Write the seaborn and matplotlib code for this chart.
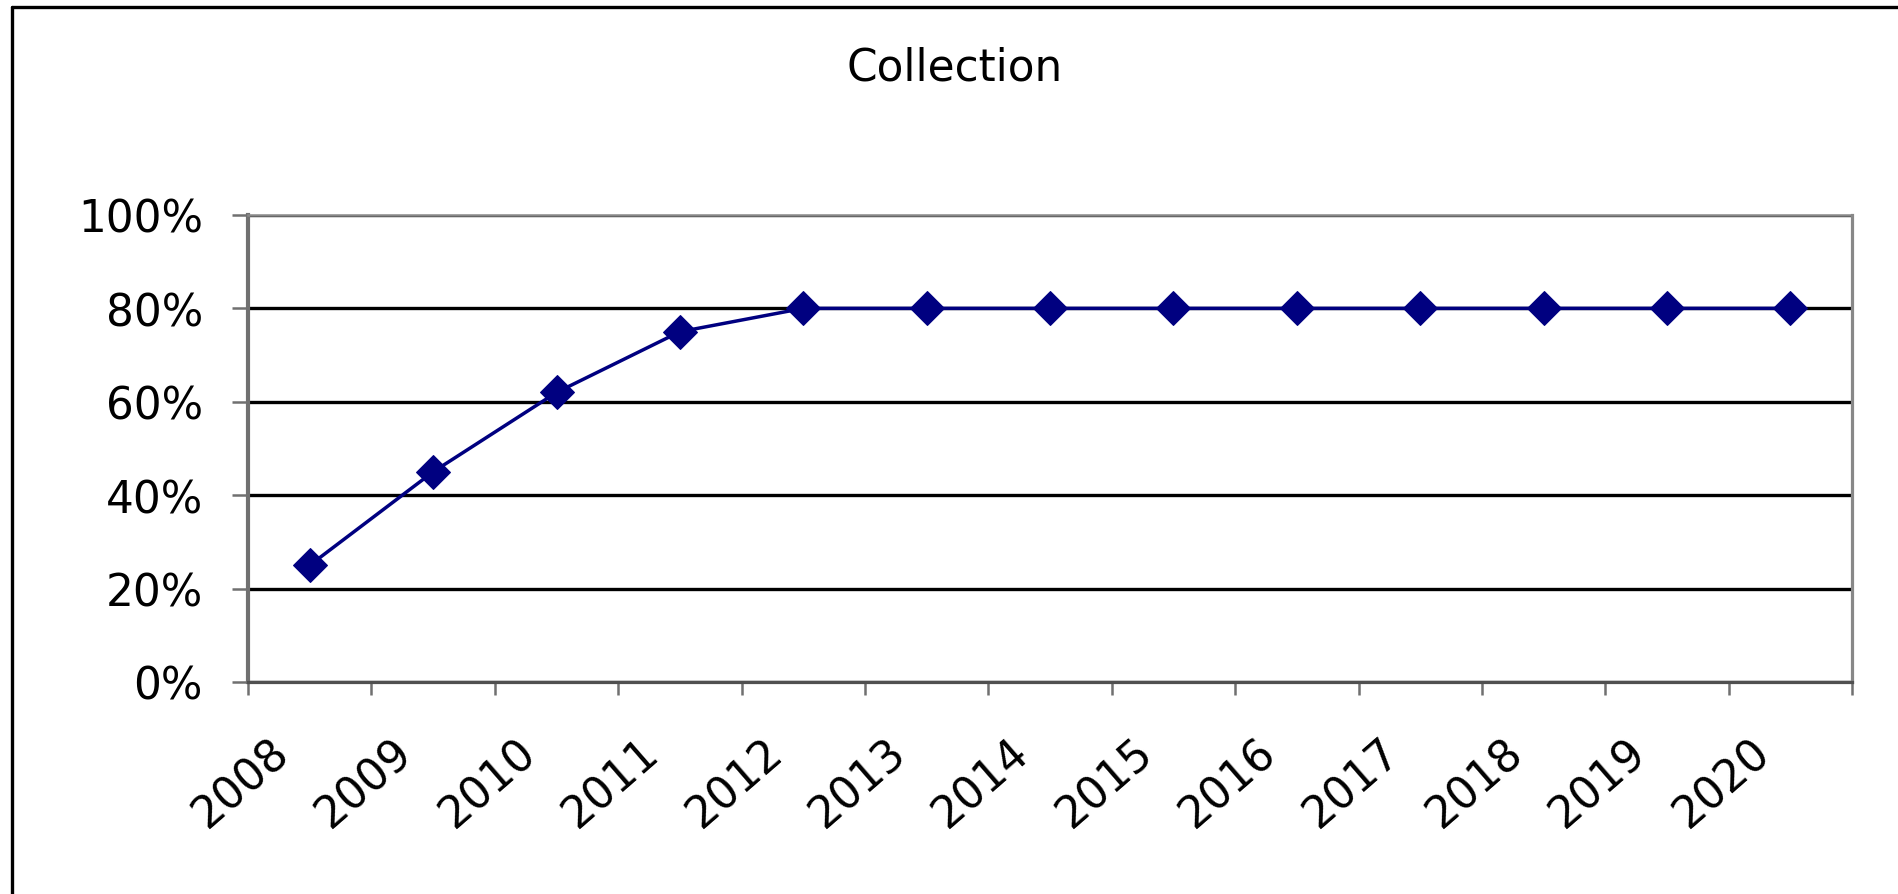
#!/usr/bin/env python3

import pandas as pd
import matplotlib
matplotlib.use("Agg")
import matplotlib.pyplot as plt
import matplotlib.transforms as mtransforms
from matplotlib.lines import Line2D
from matplotlib.ticker import FixedLocator, PercentFormatter
import seaborn as sns
import numpy as np

# Chart data
years = ["2008", "2009", "2010", "2011", "2012", "2013", "2014",
         "2015", "2016", "2017", "2018", "2019", "2020"]
collection_pct = [25, 45, 62, 75, 80, 80, 80, 80, 80, 80, 80, 80, 80]
y_ticks = [0, 20, 40, 60, 80, 100]
title = "Collection"


def setup_plotting_style():
    """Excel-like look: white background, wide sans font."""
    sns.set_theme(style="white")
    plt.rcParams['font.family'] = ['DejaVu Sans']
    plt.rcParams['figure.dpi'] = 100


def main():
    setup_plotting_style()
    df = pd.DataFrame({"year": years, "value": collection_pct})
    df["pos"] = np.arange(len(df))

    fig = plt.figure(figsize=(18.98, 8.95), dpi=100)
    ax = fig.add_axes([0.1307, 0.2369, 0.8451, 0.5218])

    # horizontal gridlines (black, Excel style)
    ax.set_axisbelow(True)
    ax.yaxis.grid(True, color="black", linewidth=2.4)
    ax.xaxis.grid(False)

    sns.lineplot(data=df, x="pos", y="value", ax=ax, color="#000080",
                 linewidth=2.5, marker="D", markersize=17,
                 markeredgecolor="#000080", zorder=3)

    ax.set_xlim(-0.5, len(years) - 0.5)
    ax.set_ylim(0, 100)
    ax.set_xlabel("")
    ax.set_ylabel("")

    # y axis
    ax.yaxis.set_major_locator(FixedLocator(y_ticks))
    ax.yaxis.set_major_formatter(PercentFormatter(decimals=0))
    ax.tick_params(axis="y", which="major", direction="out", length=11.5,
                   width=1.8, color="#707070", pad=21, labelsize=31.5,
                   labelcolor="black", left=True)

    # x axis: labels at category centres, ticks at category boundaries
    ax.set_xticks(df["pos"])
    ax.set_xticklabels(years, rotation=41, ha="right", va="center",
                       rotation_mode="anchor")
    ax.set_xticks(np.arange(-0.5, len(years)), minor=True)
    ax.tick_params(axis="x", which="major", length=0, pad=46,
                   labelsize=31.5, labelcolor="black", bottom=True)
    ax.tick_params(axis="x", which="minor", direction="out", length=9.5,
                   width=1.8, color="#707070", bottom=True)
    offset = mtransforms.ScaledTranslation(-19 / 72, 0, fig.dpi_scale_trans)
    for lbl in ax.get_xticklabels():
        lbl.set_transform(lbl.get_transform() + offset)

    # spines
    ax.spines["left"].set_color("#707070")
    ax.spines["left"].set_linewidth(3.0)
    ax.spines["bottom"].set_color("#505050")
    ax.spines["bottom"].set_linewidth(2.3)
    ax.spines["top"].set_color("#888888")
    ax.spines["top"].set_linewidth(1.8)
    ax.spines["right"].set_color("#888888")
    ax.spines["right"].set_linewidth(2.3)
    for s in ax.spines.values():
        s.set_visible(True)

    # title
    fig.text(0.503, 1 - 68 / 895, title, ha="center", va="center",
             fontsize=31.5, color="black")

    # outer chart border (only top and left edges visible)
    W, H = 1898, 895
    fig.add_artist(Line2D([12 / W, 1.0], [1 - 8 / H, 1 - 8 / H],
                          transform=fig.transFigure, color="black",
                          linewidth=2.4))
    fig.add_artist(Line2D([12 / W, 12 / W], [0.0, 1 - 8 / H],
                          transform=fig.transFigure, color="black",
                          linewidth=2.4))

    fig.savefig("out.png", dpi=100)
    plt.close(fig)


if __name__ == "__main__":
    main()
